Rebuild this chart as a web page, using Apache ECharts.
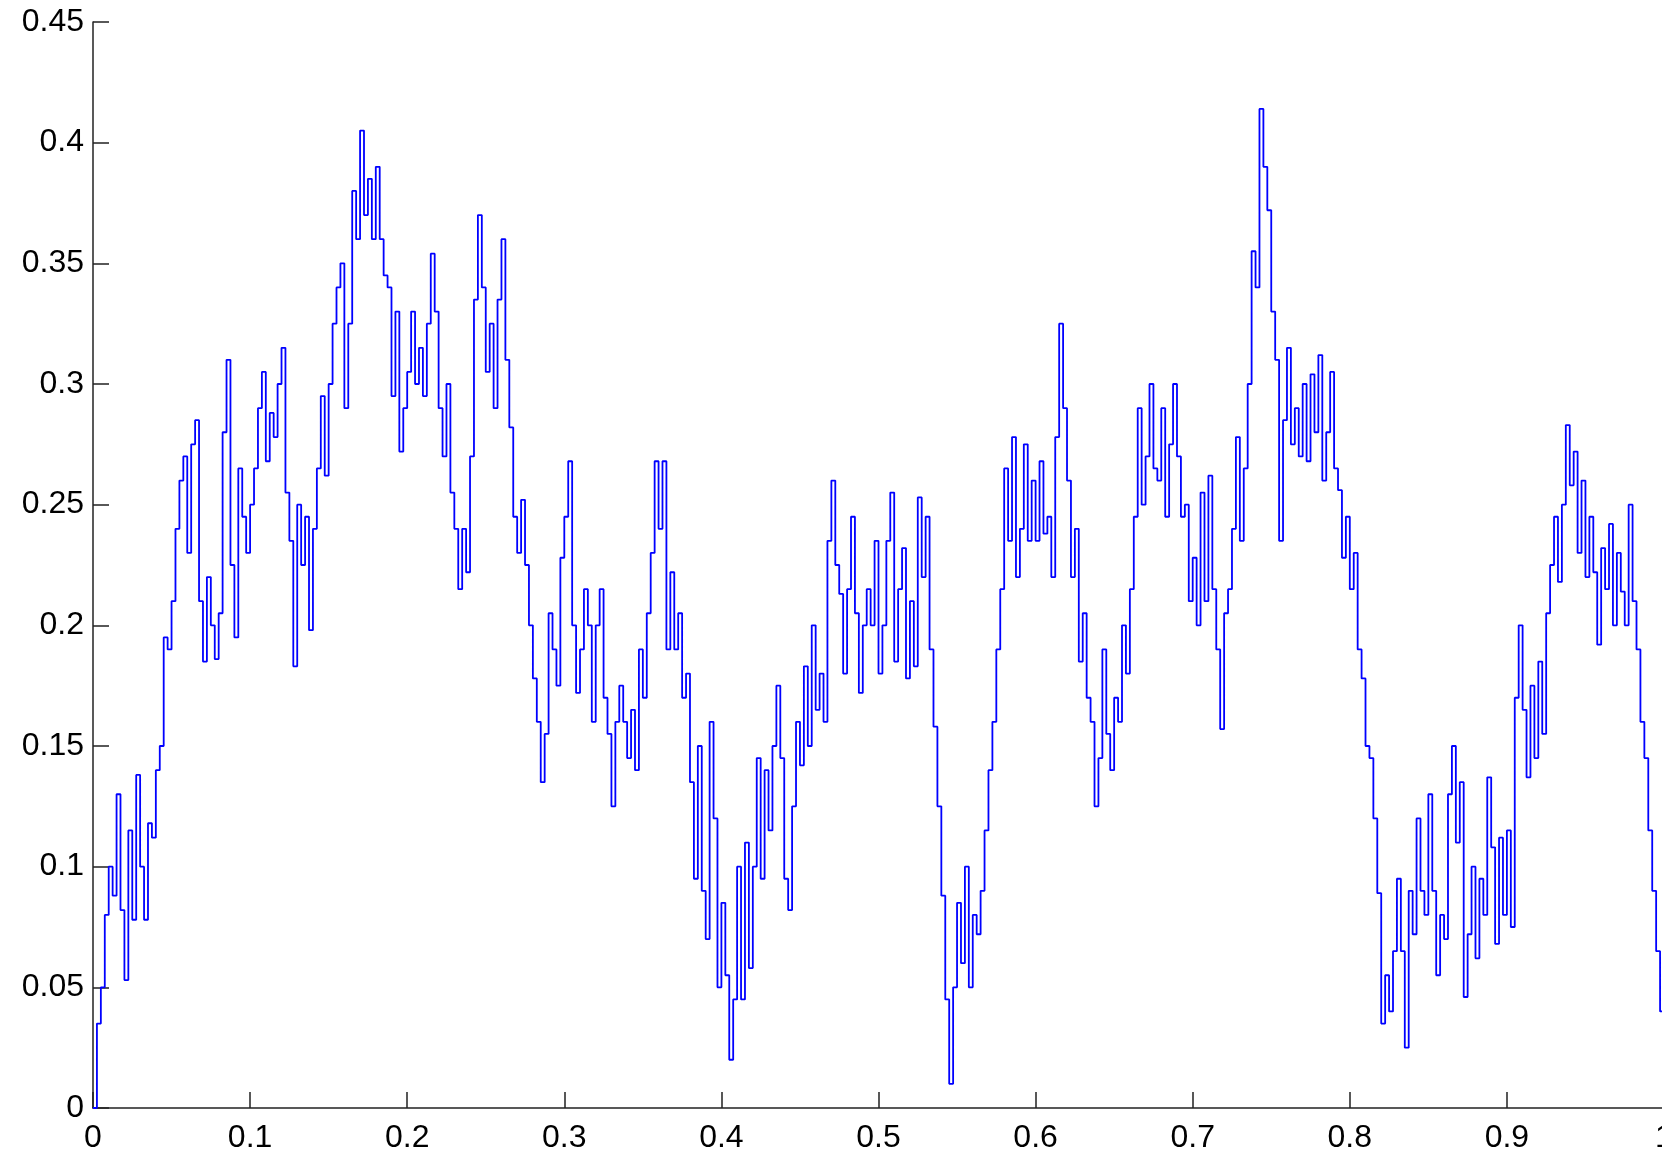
<!DOCTYPE html>
<html>
<head>
<meta charset="utf-8">
<title>Random walk path</title>
<script src="https://cdn.jsdelivr.net/npm/echarts@6/dist/echarts.min.js"></script>
<style>
  html, body { margin: 0; padding: 0; background: #fff; }
  #chart { width: 1662px; height: 1152px; }
</style>
</head>
<body>
<div id="chart"></div>
<script>
// Path values, sampled every 0.0025 on [0, 1]
const pathValues = [
  0.0, 0.035, 0.05, 0.08, 0.1, 0.088, 0.13, 0.082, 0.053, 0.115,
  0.078, 0.138, 0.1, 0.078, 0.118, 0.112, 0.14, 0.15, 0.195, 0.19,
  0.21, 0.24, 0.26, 0.27, 0.23, 0.275, 0.285, 0.21, 0.185, 0.22,
  0.2, 0.186, 0.205, 0.28, 0.31, 0.225, 0.195, 0.265, 0.245, 0.23,
  0.25, 0.265, 0.29, 0.305, 0.268, 0.288, 0.278, 0.3, 0.315, 0.255,
  0.235, 0.183, 0.25, 0.225, 0.245, 0.198, 0.24, 0.265, 0.295, 0.262,
  0.3, 0.325, 0.34, 0.35, 0.29, 0.325, 0.38, 0.36, 0.405, 0.37,
  0.385, 0.36, 0.39, 0.36, 0.345, 0.34, 0.295, 0.33, 0.272, 0.29,
  0.305, 0.33, 0.3, 0.315, 0.295, 0.325, 0.354, 0.33, 0.29, 0.27,
  0.3, 0.255, 0.24, 0.215, 0.24, 0.222, 0.27, 0.335, 0.37, 0.34,
  0.305, 0.325, 0.29, 0.335, 0.36, 0.31, 0.282, 0.245, 0.23, 0.252,
  0.225, 0.2, 0.178, 0.16, 0.135, 0.155, 0.205, 0.19, 0.175, 0.228,
  0.245, 0.268, 0.2, 0.172, 0.19, 0.215, 0.2, 0.16, 0.2, 0.215,
  0.17, 0.155, 0.125, 0.16, 0.175, 0.16, 0.145, 0.165, 0.14, 0.19,
  0.17, 0.205, 0.23, 0.268, 0.24, 0.268, 0.19, 0.222, 0.19, 0.205,
  0.17, 0.18, 0.135, 0.095, 0.15, 0.09, 0.07, 0.16, 0.12, 0.05,
  0.085, 0.055, 0.02, 0.045, 0.1, 0.045, 0.11, 0.058, 0.1, 0.145,
  0.095, 0.14, 0.115, 0.15, 0.175, 0.145, 0.095, 0.082, 0.125, 0.16,
  0.142, 0.183, 0.15, 0.2, 0.165, 0.18, 0.16, 0.235, 0.26, 0.225,
  0.213, 0.18, 0.215, 0.245, 0.205, 0.172, 0.2, 0.215, 0.2, 0.235,
  0.18, 0.2, 0.235, 0.255, 0.185, 0.215, 0.232, 0.178, 0.21, 0.183,
  0.253, 0.22, 0.245, 0.19, 0.158, 0.125, 0.088, 0.045, 0.01, 0.05,
  0.085, 0.06, 0.1, 0.05, 0.08, 0.072, 0.09, 0.115, 0.14, 0.16,
  0.19, 0.215, 0.265, 0.235, 0.278, 0.22, 0.24, 0.275, 0.235, 0.26,
  0.235, 0.268, 0.238, 0.245, 0.22, 0.278, 0.325, 0.29, 0.26, 0.22,
  0.24, 0.185, 0.205, 0.17, 0.16, 0.125, 0.145, 0.19, 0.155, 0.14,
  0.17, 0.16, 0.2, 0.18, 0.215, 0.245, 0.29, 0.25, 0.27, 0.3,
  0.265, 0.26, 0.29, 0.245, 0.275, 0.3, 0.27, 0.245, 0.25, 0.21,
  0.228, 0.2, 0.255, 0.21, 0.262, 0.215, 0.19, 0.157, 0.205, 0.215,
  0.24, 0.278, 0.235, 0.265, 0.3, 0.355, 0.34, 0.414, 0.39, 0.372,
  0.33, 0.31, 0.235, 0.285, 0.315, 0.275, 0.29, 0.27, 0.3, 0.268,
  0.304, 0.28, 0.312, 0.26, 0.28, 0.305, 0.265, 0.256, 0.228, 0.245,
  0.215, 0.23, 0.19, 0.178, 0.15, 0.145, 0.12, 0.089, 0.035, 0.055,
  0.04, 0.065, 0.095, 0.065, 0.025, 0.09, 0.072, 0.12, 0.09, 0.08,
  0.13, 0.09, 0.055, 0.08, 0.07, 0.13, 0.15, 0.11, 0.135, 0.046,
  0.072, 0.1, 0.062, 0.095, 0.08, 0.137, 0.108, 0.068, 0.112, 0.08,
  0.115, 0.075, 0.17, 0.2, 0.165, 0.137, 0.175, 0.145, 0.185, 0.155,
  0.205, 0.225, 0.245, 0.218, 0.25, 0.283, 0.258, 0.272, 0.23, 0.26,
  0.22, 0.245, 0.222, 0.192, 0.232, 0.215, 0.242, 0.2, 0.23, 0.214,
  0.2, 0.25, 0.21, 0.19, 0.16, 0.145, 0.115, 0.09, 0.065, 0.04,
  0.045
];

// Axis ticks
const xTicks = [0, 0.1, 0.2, 0.3, 0.4, 0.5, 0.6, 0.7, 0.8, 0.9, 1];
const yTicks = [0, 0.05, 0.1, 0.15, 0.2, 0.25, 0.3, 0.35, 0.4, 0.45];

const sampleStep = 0.0025;
const points = pathValues.map((v, i) => [+(i * sampleStep).toFixed(4), v]);

const chart = echarts.init(document.getElementById('chart'), null, { renderer: 'canvas' });

const axisFont = {
  color: '#000',
  fontSize: 32,
  fontFamily: '"Liberation Sans", Arial, Helvetica, sans-serif'
};

chart.setOption({
  animation: false,
  backgroundColor: '#fff',
  grid: {
    left: 93, top: 22, width: 1571, height: 1086,
    containLabel: false,
    outerBoundsMode: 'none'
  },
  xAxis: {
    type: 'value',
    min: xTicks[0],
    max: xTicks[xTicks.length - 1],
    interval: 0.1,
    axisLine: { show: true, onZero: false, lineStyle: { color: '#222', width: 1.5 } },
    axisTick: { show: true, inside: true, length: 16, lineStyle: { color: '#222', width: 1.5 } },
    axisLabel: Object.assign({ margin: 14, formatter: v => String(+v.toFixed(2)) }, axisFont),
    splitLine: { show: false }
  },
  yAxis: {
    type: 'value',
    min: yTicks[0],
    max: yTicks[yTicks.length - 1],
    interval: 0.05,
    axisLine: { show: true, onZero: false, lineStyle: { color: '#222', width: 1.5 } },
    axisTick: { show: true, inside: true, length: 16, lineStyle: { color: '#222', width: 1.5 } },
    axisLabel: Object.assign({ margin: 9, formatter: v => String(+v.toFixed(2)) }, axisFont),
    splitLine: { show: false }
  },
  series: [{
    type: 'line',
    data: points,
    step: 'end',
    showSymbol: false,
    symbol: 'none',
    clip: false,
    lineStyle: { color: '#0000ff', width: 1.8 }
  }]
});
</script>
</body>
</html>
